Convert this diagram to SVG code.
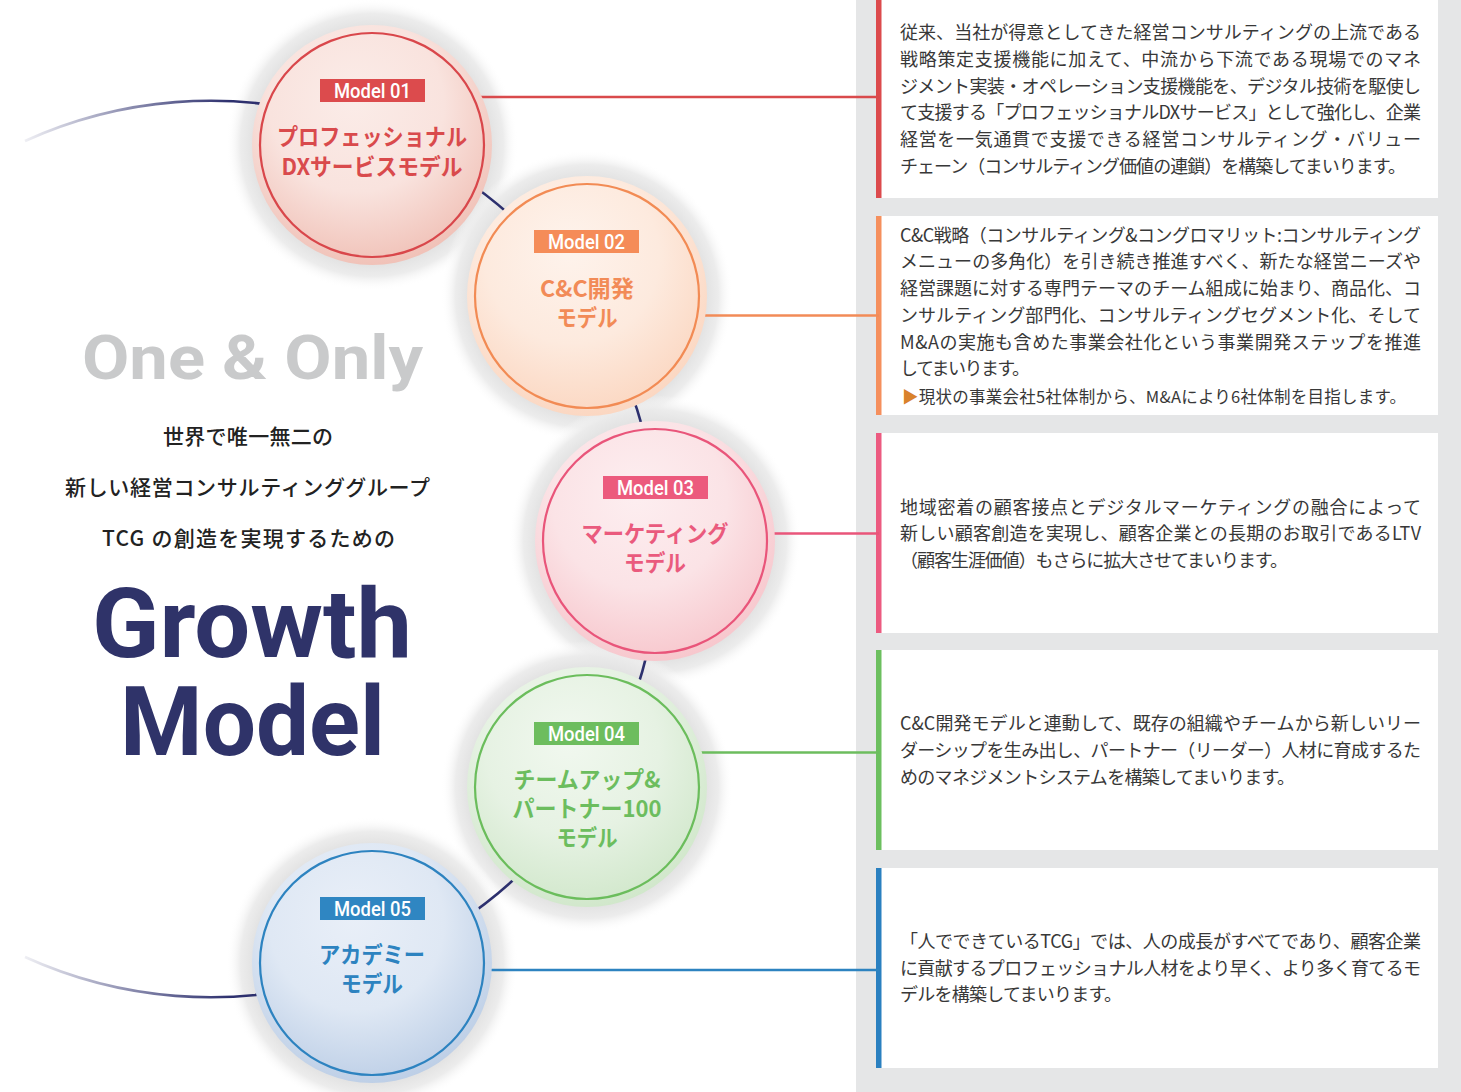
<svg xmlns="http://www.w3.org/2000/svg" width="1461" height="1092" viewBox="0 0 1461 1092">
<style>
.body{font-family:"Noto Sans CJK JP","Noto Sans",sans-serif;font-size:18px;fill:#383838;}
.lead{font-family:"Noto Sans CJK JP","Noto Sans",sans-serif;font-size:21px;fill:#222;font-weight:500;}
.lbl{font-family:Roboto,"Liberation Sans",sans-serif;font-size:20px;font-weight:500;fill:#fff;text-anchor:middle;}
.ttl{font-family:"Noto Sans CJK JP","Noto Sans",sans-serif;font-size:23px;font-weight:700;text-anchor:middle;}
.ring{fill:none;stroke-width:2.2;}
.hline{stroke-width:2.5;fill:none;}
</style>
<defs>
<radialGradient id="halo" cx="0.5" cy="0.5" r="0.5">
<stop offset="0.78" stop-color="#dedede"/>
<stop offset="0.9" stop-color="#eaeaea" stop-opacity="0.9"/>
<stop offset="1" stop-color="#ffffff" stop-opacity="0"/>
</radialGradient>
<radialGradient id="gR" cx="0.45" cy="0.36" r="0.66" fx="0.42" fy="0.3">
<stop offset="0" stop-color="#fbece8"/><stop offset="0.55" stop-color="#f9e3de"/><stop offset="1" stop-color="#f0c0b6"/>
</radialGradient>
<radialGradient id="gO" cx="0.45" cy="0.36" r="0.66" fx="0.42" fy="0.3">
<stop offset="0" stop-color="#fef3ec"/><stop offset="0.55" stop-color="#fdeade"/><stop offset="1" stop-color="#fbd6c0"/>
</radialGradient>
<radialGradient id="gP" cx="0.45" cy="0.36" r="0.66" fx="0.42" fy="0.3">
<stop offset="0" stop-color="#fdeef0"/><stop offset="0.55" stop-color="#fbe3e6"/><stop offset="1" stop-color="#f7c6cc"/>
</radialGradient>
<radialGradient id="gG" cx="0.45" cy="0.36" r="0.66" fx="0.42" fy="0.3">
<stop offset="0" stop-color="#f1f8ef"/><stop offset="0.55" stop-color="#e6f2e3"/><stop offset="1" stop-color="#d0e7ca"/>
</radialGradient>
<radialGradient id="gB" cx="0.45" cy="0.36" r="0.66" fx="0.42" fy="0.3">
<stop offset="0" stop-color="#e9eff8"/><stop offset="0.55" stop-color="#dfe8f4"/><stop offset="1" stop-color="#bccee6"/>
</radialGradient>
<linearGradient id="fadeArc" gradientUnits="userSpaceOnUse" x1="25" y1="0" x2="230" y2="0">
<stop offset="0" stop-color="#2d306e" stop-opacity="0.08"/>
<stop offset="1" stop-color="#2d306e" stop-opacity="1"/>
</linearGradient>
</defs>

<rect width="1461" height="1092" fill="#ffffff"/>

<g id="panel">
<rect x="856" y="0" width="605" height="1092" fill="#e5e6e7"/>
<rect x="876" y="0" width="562" height="198" fill="#ffffff"/>
<rect x="876" y="216" width="562" height="199" fill="#ffffff"/>
<rect x="876" y="433" width="562" height="200" fill="#ffffff"/>
<rect x="876" y="650" width="562" height="200" fill="#ffffff"/>
<rect x="876" y="868" width="562" height="200" fill="#ffffff"/>
<rect x="876" y="0" width="5.5" height="198" fill="#dc4a4d"/>
<rect x="876" y="216" width="5.5" height="199" fill="#f58f5d"/>
<rect x="876" y="433" width="5.5" height="200" fill="#ec5a80"/>
<rect x="876" y="650" width="5.5" height="200" fill="#6cbf5f"/>
<rect x="876" y="868" width="5.5" height="200" fill="#2a80c0"/>
</g>

<g id="text-box1">
<text class="body" x="900" y="39" textLength="521" lengthAdjust="spacing">従来、当社が得意としてきた経営コンサルティングの上流である</text>
<text class="body" x="900" y="66" textLength="521" lengthAdjust="spacing">戦略策定支援機能に加えて、中流から下流である現場でのマネ</text>
<text class="body" x="900" y="93" textLength="521" lengthAdjust="spacing">ジメント実装・オペレーション支援機能を、デジタル技術を駆使し</text>
<text class="body" x="900" y="119" textLength="521" lengthAdjust="spacing">て支援する「プロフェッショナルDXサービス」として強化し、企業</text>
<text class="body" x="900" y="146" textLength="521" lengthAdjust="spacing">経営を一気通貫で支援できる経営コンサルティング・バリュー</text>
<text class="body" x="900" y="173" textLength="506" lengthAdjust="spacing">チェーン（コンサルティング価値の連鎖）を構築してまいります。</text>
</g>
<g id="text-box2">
<text class="body" x="900" y="242" textLength="521" lengthAdjust="spacing">C&amp;C戦略（コンサルティング&amp;コングロマリット:コンサルティング</text>
<text class="body" x="900" y="268" textLength="521" lengthAdjust="spacing">メニューの多角化）を引き続き推進すべく、新たな経営ニーズや</text>
<text class="body" x="900" y="295" textLength="521" lengthAdjust="spacing">経営課題に対する専門テーマのチーム組成に始まり、商品化、コ</text>
<text class="body" x="900" y="322" textLength="521" lengthAdjust="spacing">ンサルティング部門化、コンサルティングセグメント化、そして</text>
<text class="body" x="900" y="349" textLength="521" lengthAdjust="spacing">M&amp;Aの実施も含めた事業会社化という事業開発ステップを推進</text>
<text class="body" x="900" y="375" textLength="130" lengthAdjust="spacing">してまいります。</text>
<text class="body" x="902" y="403" style="font-size:16.5px" textLength="504" lengthAdjust="spacing"><tspan fill="#d9822b">▶</tspan>現状の事業会社5社体制から、M&amp;Aにより6社体制を目指します。</text>
</g>
<g id="text-box3">
<text class="body" x="900" y="514" textLength="521" lengthAdjust="spacing">地域密着の顧客接点とデジタルマーケティングの融合によって</text>
<text class="body" x="900" y="540" textLength="521" lengthAdjust="spacing">新しい顧客創造を実現し、顧客企業との長期のお取引であるLTV</text>
<text class="body" x="900" y="567" textLength="388" lengthAdjust="spacing">（顧客生涯価値）もさらに拡大させてまいります。</text>
</g>
<g id="text-box4">
<text class="body" x="900" y="730" textLength="521" lengthAdjust="spacing">C&amp;C開発モデルと連動して、既存の組織やチームから新しいリー</text>
<text class="body" x="900" y="757" textLength="521" lengthAdjust="spacing">ダーシップを生み出し、パートナー（リーダー）人材に育成するた</text>
<text class="body" x="900" y="784" textLength="395" lengthAdjust="spacing">めのマネジメントシステムを構築してまいります。</text>
</g>
<g id="text-box5">
<text class="body" x="900" y="948" textLength="521" lengthAdjust="spacing">「人でできているTCG」では、人の成長がすべてであり、顧客企業</text>
<text class="body" x="900" y="975" textLength="521" lengthAdjust="spacing">に貢献するプロフェッショナル人材をより早く、より多く育てるモ</text>
<text class="body" x="900" y="1001" textLength="222" lengthAdjust="spacing">デルを構築してまいります。</text>
</g>

<g id="heading">
<text x="82" y="379" textLength="341" lengthAdjust="spacingAndGlyphs" style="font-family:Roboto,'Liberation Sans',sans-serif;font-weight:700;font-size:61px;fill:#c9cacb;">One &amp; Only</text>
<text class="lead" x="163" y="444" textLength="170" lengthAdjust="spacing">世界で唯一無二の</text>
<text class="lead" x="65" y="495" textLength="365" lengthAdjust="spacing">新しい経営コンサルティンググループ</text>
<text class="lead" x="102" y="546" textLength="293" lengthAdjust="spacing">TCG の創造を実現するための</text>
<text x="92" y="657" textLength="320" lengthAdjust="spacingAndGlyphs" style="font-family:Roboto,'Liberation Sans',sans-serif;font-weight:700;font-size:97px;fill:#2f3369;">Growth</text>
<text x="120" y="755" textLength="265" lengthAdjust="spacingAndGlyphs" style="font-family:Roboto,'Liberation Sans',sans-serif;font-weight:700;font-size:97px;fill:#2f3369;">Model</text>
</g>

<g id="halos">
<circle cx="372" cy="145" r="146" fill="url(#halo)"/>
<circle cx="587" cy="296" r="146" fill="url(#halo)"/>
<circle cx="655" cy="541" r="146" fill="url(#halo)"/>
<circle cx="587" cy="787" r="146" fill="url(#halo)"/>
<circle cx="372" cy="963" r="146" fill="url(#halo)"/>
</g>

<g id="connectors">
<path d="M25 141 A448 448 0 0 1 330 117" fill="none" stroke="url(#fadeArc)" stroke-width="2.6"/>
<path d="M330 117 A448 448 0 0 1 330 981" fill="none" stroke="#2d306e" stroke-width="2.6"/>
<path d="M330 981 A448 448 0 0 1 25 957" fill="none" stroke="url(#fadeArc)" stroke-width="2.6"/>
<line class="hline" x1="372" y1="97" x2="879" y2="97" stroke="#d94a4c"/>
<line class="hline" x1="587" y1="315.5" x2="879" y2="315.5" stroke="#f28b57"/>
<line class="hline" x1="655" y1="533.5" x2="879" y2="533.5" stroke="#e9557a"/>
<line class="hline" x1="587" y1="752.5" x2="879" y2="752.5" stroke="#6cbd5e"/>
<line class="hline" x1="372" y1="970" x2="879" y2="970" stroke="#2d83c0"/>
</g>

<g id="model01">
<circle cx="372" cy="145" r="120" fill="url(#gR)"/>
<circle class="ring" cx="372" cy="145" r="112" stroke="#d9474b"/>
<rect x="320" y="79" width="105" height="23" fill="#dc4b4d"/>
<text class="lbl" x="372.5" y="98" textLength="77" lengthAdjust="spacingAndGlyphs">Model 01</text>
<text class="ttl" x="372" y="145" fill="#d94a4c" textLength="190" lengthAdjust="spacingAndGlyphs">プロフェッショナル</text>
<text class="ttl" x="372" y="175" fill="#d94a4c" textLength="181" lengthAdjust="spacingAndGlyphs">DXサービスモデル</text>
</g>
<g id="model02">
<circle cx="587" cy="296" r="120" fill="url(#gO)"/>
<circle class="ring" cx="587" cy="296" r="112" stroke="#f28b54"/>
<rect x="534" y="230" width="105" height="23" fill="#f58c58"/>
<text class="lbl" x="586.5" y="249" textLength="77" lengthAdjust="spacingAndGlyphs">Model 02</text>
<text class="ttl" x="587" y="297" fill="#f28b57" textLength="94" lengthAdjust="spacingAndGlyphs">C&amp;C開発</text>
<text class="ttl" x="587" y="326" fill="#f28b57" textLength="61" lengthAdjust="spacingAndGlyphs">モデル</text>
</g>
<g id="model03">
<circle cx="655" cy="541" r="120" fill="url(#gP)"/>
<circle class="ring" cx="655" cy="541" r="112" stroke="#e9557a"/>
<rect x="603" y="476" width="105" height="23" fill="#ec5a7d"/>
<text class="lbl" x="655.5" y="495" textLength="77" lengthAdjust="spacingAndGlyphs">Model 03</text>
<text class="ttl" x="655" y="542" fill="#ea5a7d" textLength="147" lengthAdjust="spacingAndGlyphs">マーケティング</text>
<text class="ttl" x="655" y="571" fill="#ea5a7d" textLength="62" lengthAdjust="spacingAndGlyphs">モデル</text>
</g>
<g id="model04">
<circle cx="587" cy="787" r="120" fill="url(#gG)"/>
<circle class="ring" cx="587" cy="787" r="112" stroke="#6bbd5c"/>
<rect x="534" y="722" width="105" height="23" fill="#6dbd5e"/>
<text class="lbl" x="586.5" y="741" textLength="77" lengthAdjust="spacingAndGlyphs">Model 04</text>
<text class="ttl" x="587" y="788" fill="#6cbd5e" textLength="147" lengthAdjust="spacingAndGlyphs">チームアップ&amp;</text>
<text class="ttl" x="587" y="817" fill="#6cbd5e" textLength="149" lengthAdjust="spacingAndGlyphs">パートナー100</text>
<text class="ttl" x="587" y="846" fill="#6cbd5e" textLength="61" lengthAdjust="spacingAndGlyphs">モデル</text>
</g>
<g id="model05">
<circle cx="372" cy="963" r="120" fill="url(#gB)"/>
<circle class="ring" cx="372" cy="963" r="112" stroke="#2d83c0"/>
<rect x="320" y="897" width="105" height="23" fill="#2f86c2"/>
<text class="lbl" x="372.5" y="916" textLength="77" lengthAdjust="spacingAndGlyphs">Model 05</text>
<text class="ttl" x="372" y="963" fill="#2d83c0" textLength="106" lengthAdjust="spacingAndGlyphs">アカデミー</text>
<text class="ttl" x="372" y="992" fill="#2d83c0" textLength="62" lengthAdjust="spacingAndGlyphs">モデル</text>
</g>
</svg>
